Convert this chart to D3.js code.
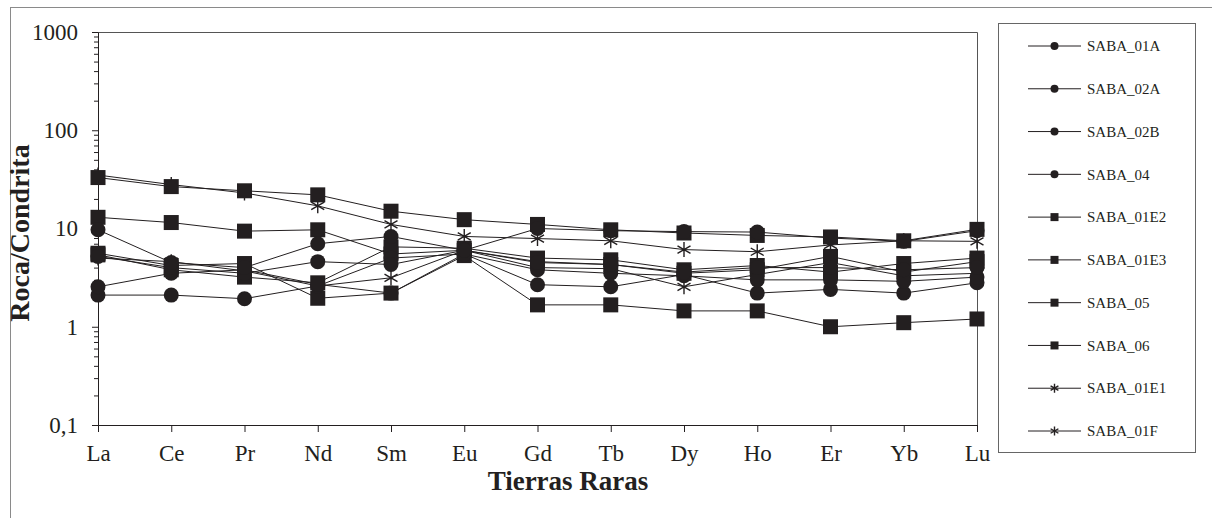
<!DOCTYPE html>
<html>
<head>
<meta charset="utf-8">
<script src="https://cdn.jsdelivr.net/npm/d3@7"></script>
<style>
  body { margin: 0; background: #fff; }
  .chart text { font-family: "Liberation Serif", "Times New Roman", serif; fill: #231f20; }
</style>
</head>
<body>
<div class="chart"></div>
<script>
// Tierras raras normalizadas a condrita
const categories = ['La', 'Ce', 'Pr', 'Nd', 'Sm', 'Eu', 'Gd', 'Tb', 'Dy', 'Ho', 'Er', 'Yb', 'Lu'];
const seriesNames = ['SABA_01A', 'SABA_02A', 'SABA_02B', 'SABA_04', 'SABA_01E2', 'SABA_01E3', 'SABA_05', 'SABA_06', 'SABA_01E1', 'SABA_01F'];

const saba01A = [9.7, 4.5, 4.0, 7.0, 8.3, 6.0, 10.0, 9.5, 9.3, 9.2, 8.0, 7.4, 9.5];
const saba02A = [5.2, 4.0, 3.5, 4.6, 4.3, 6.0, 4.5, 4.3, 3.6, 4.0, 4.0, 3.8, 4.0];
const saba02B = [2.55, 3.5, 3.8, 2.7, 2.2, 5.5, 3.8, 3.5, 3.3, 3.0, 3.0, 2.9, 3.2];
const saba04 = [2.1, 2.1, 1.93, 2.6, 5.0, 5.5, 2.68, 2.55, 3.4, 2.2, 2.4, 2.2, 2.8];
const saba01E2 = [5.6, 4.2, 4.4, 1.95, 2.2, 5.3, 1.67, 1.67, 1.45, 1.45, 1.0, 1.1, 1.2];
const saba01E3 = [5.4, 3.8, 3.2, 2.8, 6.5, 6.3, 5.0, 4.8, 3.8, 4.2, 3.6, 4.4, 5.0];
const saba05 = [13, 11.5, 9.4, 9.7, 5.5, 6.0, 4.6, 4.3, 3.5, 3.8, 5.2, 3.6, 4.6];
const saba06 = [33, 26.7, 24.2, 22, 15, 12.3, 11, 9.7, 9.0, 8.5, 8.2, 7.5, 9.8];
const saba01E1 = [35, 28, 23, 17, 11, 8.3, 7.9, 7.5, 6.1, 5.8, 6.8, 7.5, 7.4];
const saba01F = [5.0, 4.6, 3.7, 2.6, 3.15, 6.0, 4.0, 3.9, 2.55, 3.4, 4.5, 3.3, 3.5];

const seriesValues = [saba01A, saba02A, saba02B, saba04, saba01E2, saba01E3, saba05, saba06, saba01E1, saba01F];
const yTicks = [0.1, 1, 10, 100, 1000];

function displayChart() {
  const w = 1212;
  const h = 518;
  const plot = { left: 98, right: 977, top: 32, bottom: 425 };
  const ink = '#231f20';

  const markerFor = (i) => (i < 4 ? 'circle' : i < 8 ? 'square' : 'star');

  const xScale = d3.scalePoint()
    .domain(categories)
    .range([plot.left, plot.right]);
  const yScale = d3.scaleLog()
    .domain([0.1, 1000])
    .range([plot.bottom, plot.top]);

  const svg = d3.select('.chart')
    .append('svg')
    .attr('width', w)
    .attr('height', h);

  // marco exterior
  svg.append('rect')
    .attr('x', 10.5)
    .attr('y', 7.5)
    .attr('width', w)
    .attr('height', h)
    .attr('fill', 'none')
    .attr('stroke', '#8a8a8a');

  // bordes superior y derecho del área de trazado
  svg.append('path')
    .attr('d', `M${plot.left},${plot.top + 0.5}H${plot.right + 0.5}V${plot.bottom}`)
    .attr('fill', 'none')
    .attr('stroke', '#555');

  const minorTicks = [];
  [0.1, 1, 10, 100].forEach(base => {
    for (let k = 2; k <= 9; k++) minorTicks.push(base * k);
  });

  svg.append('g')
    .attr('class', 'y-minor')
    .attr('transform', `translate(${plot.left}, 0)`)
    .call(d3.axisLeft(yScale).tickValues(minorTicks).tickSize(4).tickFormat(''))
    .call(g => g.select('.domain').remove())
    .selectAll('line').attr('stroke', ink);

  const yAxis = svg.append('g')
    .attr('class', 'y-axis')
    .attr('transform', `translate(${plot.left}, 0)`)
    .call(d3.axisLeft(yScale)
      .tickValues(yTicks)
      .tickFormat(d => String(d).replace('.', ','))
      .tickSize(6)
      .tickSizeOuter(0)
      .tickPadding(14));
  yAxis.selectAll('text').style('font-size', '23px');
  yAxis.selectAll('line, path').attr('stroke', ink);

  const xAxis = svg.append('g')
    .attr('class', 'x-axis')
    .attr('transform', `translate(0, ${plot.bottom})`)
    .call(d3.axisBottom(xScale).tickSize(7).tickSizeOuter(0).tickPadding(13));
  xAxis.selectAll('text').style('font-size', '23px');
  xAxis.selectAll('line, path').attr('stroke', ink);

  svg.append('text')
    .attr('class', 'x-label')
    .attr('x', 568)
    .attr('y', 490)
    .attr('text-anchor', 'middle')
    .style('font-size', '27px')
    .style('font-weight', 'bold')
    .text('Tierras Raras');

  svg.append('text')
    .attr('class', 'y-label')
    .attr('transform', 'rotate(-90)')
    .attr('x', -233)
    .attr('y', 29)
    .attr('text-anchor', 'middle')
    .style('font-size', '28px')
    .style('font-weight', 'bold')
    .text('Roca/Condrita');

  function drawMarker(g, type, cx, cy, size) {
    if (type === 'circle') {
      g.append('circle')
        .attr('cx', cx).attr('cy', cy).attr('r', size / 2)
        .attr('fill', ink);
    } else if (type === 'square') {
      g.append('rect')
        .attr('x', cx - size / 2).attr('y', cy - size / 2)
        .attr('width', size).attr('height', size)
        .attr('fill', ink);
    } else {
      const r = size / 2;
      let d = '';
      [90, 30, -30].forEach(a => {
        const dx = r * Math.cos(a * Math.PI / 180);
        const dy = r * Math.sin(a * Math.PI / 180);
        d += `M${cx - dx},${cy - dy}L${cx + dx},${cy + dy}`;
      });
      g.append('path')
        .attr('d', d)
        .attr('stroke', ink)
        .attr('stroke-width', 1.4)
        .attr('fill', 'none');
    }
  }

  const line = d3.line()
    .x((d, i) => xScale(categories[i]))
    .y(d => yScale(d));

  const seriesG = svg.append('g').attr('class', 'series');
  // Excel dibuja la última serie debajo
  const order = d3.range(seriesValues.length).reverse();

  order.forEach(i => {
    seriesG.append('path')
      .attr('d', line(seriesValues[i]))
      .attr('fill', 'none')
      .attr('stroke', ink)
      .attr('stroke-width', 1);
  });

  order.forEach(i => {
    const g = seriesG.append('g').attr('class', 'markers');
    seriesValues[i].forEach((v, j) => {
      drawMarker(g, markerFor(i), xScale(categories[j]), yScale(v), 15);
    });
  });

  // leyenda
  const legend = svg.append('g').attr('class', 'legend');
  legend.append('rect')
    .attr('x', 998.5)
    .attr('y', 23.5)
    .attr('width', 197)
    .attr('height', 429)
    .attr('fill', '#fff')
    .attr('stroke', '#666');

  const legendY = d3.scalePoint()
    .domain(seriesNames)
    .range([46, 431]);

  seriesNames.forEach((name, i) => {
    const y = legendY(name);
    const g = legend.append('g');
    g.append('line')
      .attr('x1', 1028).attr('x2', 1081)
      .attr('y1', y).attr('y2', y)
      .attr('stroke', ink);
    drawMarker(g, markerFor(i), 1054.5, y, markerFor(i) === 'star' ? 9 : 8);
    g.append('text')
      .attr('x', 1087)
      .attr('y', y)
      .attr('dy', '0.35em')
      .style('font-size', '15px')
      .text(name);
  });
}

displayChart();
</script>
</body>
</html>
